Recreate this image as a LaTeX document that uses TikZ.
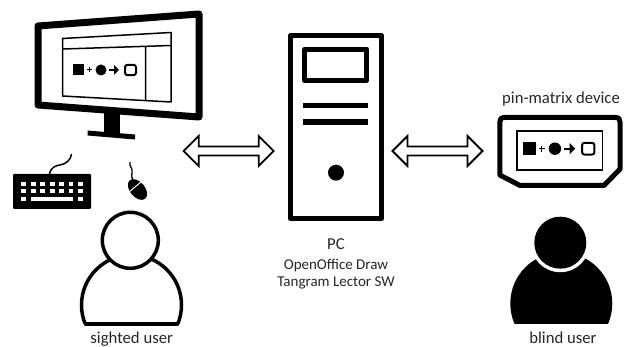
\documentclass[tikz,border=0pt]{standalone}
\usepackage{fontspec}
\setmainfont{Carlito}
\usetikzlibrary{shapes.arrows}
\tikzset{
  lab/.style={font=\fontsize{16.7}{18}\selectfont,inner sep=0pt,text=black!85},
  sublab/.style={font=\fontsize{15}{17}\selectfont,inner sep=0pt,text=black!85},
  linkarrow/.style={double arrow,draw=black,fill=white,line width=1.8pt,inner xsep=0pt,inner ysep=3.6pt,
    double arrow head extend=10.5pt,minimum height=90pt,minimum width=0pt},
  thick line/.style={line width=#1,line join=round,draw=black},
  key/.style={fill=white}
}
\newcommand{\diagramseq}[3]{%
  \begin{scope}[shift={(#1,#2)},xscale=#3,yscale=#3]
    \fill (0,-5.5) rectangle (11,5.5);
    \draw[line width=1pt] (14,0) -- (19,0) (16.5,-2.5) -- (16.5,2.5);
    \fill (28,0) circle (5.5);
    \draw[line width=2.2pt] (36,0) -- (43,0);
    \fill (41,-5) -- (46,0) -- (41,5) -- cycle;
    \draw[line width=2pt,rounded corners=2.5pt] (52,-5.2) rectangle (63,5.2);
  \end{scope}}
\begin{document}
\begin{tikzpicture}[x=1pt,y=-1pt]
\useasboundingbox (0,0) rectangle (635,347);
% monitor
\draw[thick line=7pt] (38,26) -- (199,14) -- (199,117) -- (38,105) -- cycle;
\draw[thick line=1.5pt] (62.5,38.5) -- (171,32.5) -- (171,102) -- (62.5,96) -- cycle;
\draw[line width=1.5pt] (63,49) -- (171,45.5) (145.5,47) -- (145.5,100);
\diagramseq{73}{70}{1}
\fill (104,112) rectangle (120,133);
\fill (87.5,130.5) -- (135,134.5) -- (135,139.5) -- (87.5,135.5) -- cycle;
% keyboard
\fill[rounded corners=1pt] (13,174) rectangle (91,209);
\foreach \x in {23.7,33.2,42.7,52.2,61.7,71,80.3}{
  \fill[key] (\x-2.3,181.7) rectangle (\x+2.3,186.3);
  \fill[key] (\x-2.3,189) rectangle (\x+2.3,193.5);
}
\fill[key] (21.4,197) rectangle (26,201.5);
\fill[key] (78,197) rectangle (82.6,201.5);
\fill[key] (31,197) rectangle (73.3,201.5);
\draw[line width=1.5pt] (49.5,174) .. controls (51,167) and (56,165.5) .. (60,165) .. controls (66,164) and (71,160) .. (71.5,154);
% mouse
\begin{scope}[shift={(137.5,189.5)},rotate=-50]
  \fill (0,0) ellipse (12 and 7.5);
  \draw[white,line width=1pt] (-3.5,-7.5) -- (-3.5,7.5);
\end{scope}
\draw[line width=1.3pt] (130,162) .. controls (129,167) and (133,168) .. (132,172) .. controls (131,175) and (132,178) .. (133,181);
% sighted user
\begin{scope}
  \clip (60,240) rectangle (200,324);
  \draw[line width=3.5pt] (131.5,305) circle (50);
\end{scope}
\draw[line width=3.5pt,line cap=round] (85.5,324) -- (177.5,324);
\draw[line width=3.5pt,fill=white] (130.3,240.3) circle (28);
% PC
\draw[thick line=5pt] (290.2,35.8) rectangle (381.8,218.5);
\draw[thick line=5pt] (304.8,49.2) rectangle (366.8,80.8);
\fill (303.3,102.7) rectangle (367.7,108.3);
\fill (303.3,119) rectangle (367.7,124.7);
\fill (336,172.7) circle (8);
% device
\draw[thick line=5pt] (505,117.5) -- (615,117.5) .. controls (619,117.5) and (620,119) .. (620,122) -- (620,169) -- (604,185.5) -- (520,185.5) -- (499.8,175) -- (499.8,122) .. controls (499.8,119) and (501,117.5) .. (505,117.5) -- cycle;
\draw[line width=1.5pt] (517,131) rectangle (602.5,170);
\diagramseq{523.3}{148.7}{1.13}
% blind user
\begin{scope}
  \clip (490,240) rectangle (630,323.3);
  \fill (561.3,303.5) circle (51);
\end{scope}
\fill[white] (560.3,242.7) circle (29.5);
\fill (560.3,242.7) circle (26);
% double arrows
\node[linkarrow] (armL) at (228.7,151) {};
\node[linkarrow] (armR) at (437.5,151) {};
% labels
\node[lab,anchor=base] (sighted) at (131.7,343.3) {sighted user};
\node[lab,anchor=base] (blind) at (563,343.3) {blind user};
\node[lab] (pc) at (336,244) {PC};
\node[sublab] (draw) at (336,265.5) {OpenOffice Draw};
\node[sublab] (lector) at (336,283) {Tangram Lector SW};
\node[lab] (pin) at (561,99) {pin-matrix device};
\end{tikzpicture}
\end{document}
